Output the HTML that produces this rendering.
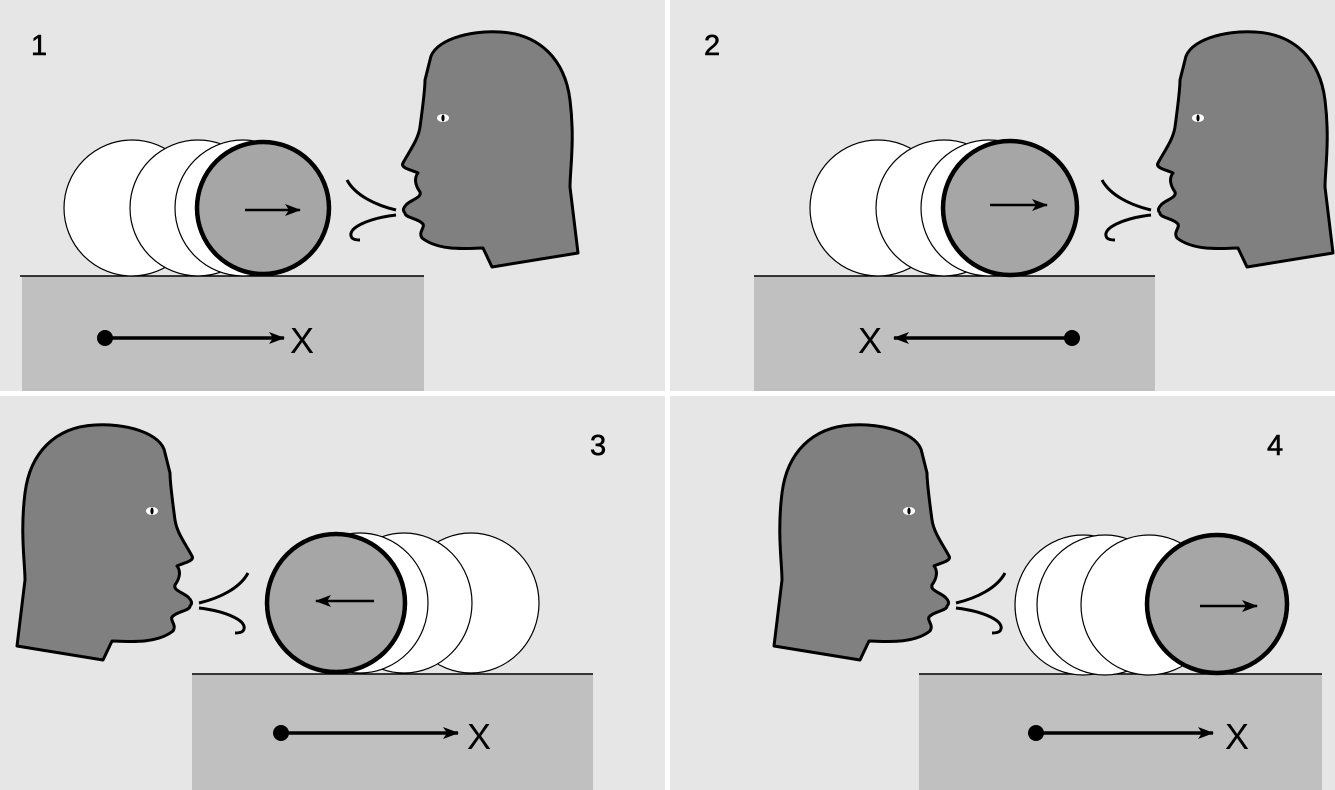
<!DOCTYPE html>
<html><head><meta charset="utf-8"><style>
html,body{margin:0;padding:0;background:#fff;}
svg{display:block;}
text{font-family:"Liberation Sans",sans-serif;}
</style></head><body>
<svg width="1335" height="790" viewBox="0 0 1335 790">
<defs>
<g id="head">
<path d="M430,60 C433,40 470,30 500,32 C540,34 565,60 570,100 C575,140 570,170 570,187 L578,253 L492,267 L483,248 C470,248 440,252 422,238 C418,232 425,228 423,224 C418,218 405,218 405,213 C402,210 404,207 406,205 C410,200 422,198 420,192 C415,185 414,178 418,173 C412,170 400,168 403,163 C410,150 418,140 420,127 C423,105 425,90 425,80 Z" fill="#808080" stroke="#000" stroke-width="3" stroke-linejoin="round"/>
<ellipse cx="443" cy="118" rx="6" ry="4" fill="#fff"/>
<ellipse cx="443" cy="118" rx="1.6" ry="3.5" fill="#000"/>
<path d="M347,180 C355,195 375,205 396,210" fill="none" stroke="#000" stroke-width="3"/>
<path d="M396,215 C370,218 345,228 352,238 C354,240 358,240 360,240" fill="none" stroke="#000" stroke-width="3"/>
</g>
<marker id="ah" markerWidth="16" markerHeight="12" refX="15" refY="6" orient="auto" markerUnits="userSpaceOnUse"><path d="M0,0 L16,6 L0,12 L4,6 Z" fill="#000"/></marker>
</defs>
<rect width="1335" height="790" fill="#fff"/>
<rect x="0" y="0" width="665" height="391" fill="#e6e6e6"/>
<rect x="670" y="0" width="665" height="391" fill="#e6e6e6"/>
<rect x="0" y="396" width="665" height="394" fill="#e6e6e6"/>
<rect x="670" y="396" width="665" height="394" fill="#e6e6e6"/>

<g>
<text x="31" y="55" font-size="29" stroke="#000" stroke-width="0.6">1</text>
<rect x="22" y="276" width="402" height="115" fill="#c0c0c0"/>
<line x1="20" y1="276" x2="424" y2="276" stroke="#000" stroke-width="1.5"/>
<circle cx="132" cy="208" r="68" fill="#fff" stroke="#000" stroke-width="1.2"/>
<circle cx="198" cy="208" r="68" fill="#fff" stroke="#000" stroke-width="1.2"/>
<circle cx="243" cy="208" r="68" fill="#fff" stroke="#000" stroke-width="1.2"/>
<circle cx="263" cy="208" r="66" fill="#a6a6a6" stroke="#000" stroke-width="4.5"/>
<line x1="245" y1="210" x2="300" y2="210" stroke="#000" stroke-width="2.5" marker-end="url(#ah)"/>
<use href="#head"/>
<circle cx="105" cy="338" r="8" fill="#000"/>
<line x1="105" y1="338" x2="284" y2="338" stroke="#000" stroke-width="3.5" marker-end="url(#ah)"/>
<text x="290" y="353" font-size="36">X</text>
</g>

<g>
<text x="704" y="55" font-size="29" stroke="#000" stroke-width="0.6">2</text>
<rect x="754" y="276" width="401" height="115" fill="#c0c0c0"/>
<line x1="754" y1="276" x2="1155" y2="276" stroke="#000" stroke-width="1.5"/>
<circle cx="878" cy="208" r="68" fill="#fff" stroke="#000" stroke-width="1.2"/>
<circle cx="944" cy="208" r="68" fill="#fff" stroke="#000" stroke-width="1.2"/>
<circle cx="989" cy="208" r="68" fill="#fff" stroke="#000" stroke-width="1.2"/>
<circle cx="1010" cy="208" r="67" fill="#a6a6a6" stroke="#000" stroke-width="4.5"/>
<line x1="990" y1="205" x2="1047" y2="205" stroke="#000" stroke-width="2.5" marker-end="url(#ah)"/>
<use href="#head" transform="translate(755,0)"/>
<circle cx="1072" cy="338" r="8" fill="#000"/>
<line x1="1072" y1="338" x2="894" y2="338" stroke="#000" stroke-width="3.5" marker-end="url(#ah)"/>
<text x="858" y="353" font-size="36">X</text>
</g>

<g>
<text x="590" y="455" font-size="29" stroke="#000" stroke-width="0.6">3</text>
<rect x="192" y="674" width="401" height="116" fill="#c0c0c0"/>
<line x1="192" y1="674" x2="593" y2="674" stroke="#000" stroke-width="1.5"/>
<ellipse cx="471" cy="603" rx="68" ry="70" fill="#fff" stroke="#000" stroke-width="1.2"/>
<ellipse cx="404" cy="603" rx="68" ry="70" fill="#fff" stroke="#000" stroke-width="1.2"/>
<ellipse cx="360" cy="603" rx="68" ry="70" fill="#fff" stroke="#000" stroke-width="1.2"/>
<ellipse cx="336" cy="603" rx="69" ry="69" fill="#a6a6a6" stroke="#000" stroke-width="4.5"/>
<line x1="374" y1="601" x2="316" y2="601" stroke="#000" stroke-width="2.5" marker-end="url(#ah)"/>
<use href="#head" transform="translate(595,393) scale(-1,1)"/>
<circle cx="281" cy="733" r="8" fill="#000"/>
<line x1="281" y1="733" x2="458" y2="733" stroke="#000" stroke-width="3.5" marker-end="url(#ah)"/>
<text x="467" y="749" font-size="36">X</text>
</g>

<g>
<text x="1267" y="455" font-size="29" stroke="#000" stroke-width="0.6">4</text>
<rect x="919" y="674" width="403" height="116" fill="#c0c0c0"/>
<line x1="919" y1="674" x2="1322" y2="674" stroke="#000" stroke-width="1.5"/>
<ellipse cx="1083" cy="605" rx="68" ry="70" fill="#fff" stroke="#000" stroke-width="1.2"/>
<ellipse cx="1105" cy="605" rx="68" ry="70" fill="#fff" stroke="#000" stroke-width="1.2"/>
<ellipse cx="1149" cy="605" rx="68" ry="70" fill="#fff" stroke="#000" stroke-width="1.2"/>
<ellipse cx="1217" cy="604" rx="70" ry="69" fill="#a6a6a6" stroke="#000" stroke-width="4.5"/>
<line x1="1200" y1="606" x2="1257" y2="606" stroke="#000" stroke-width="2.5" marker-end="url(#ah)"/>
<use href="#head" transform="translate(1352,393) scale(-1,1)"/>
<circle cx="1036" cy="733" r="8" fill="#000"/>
<line x1="1036" y1="733" x2="1213" y2="733" stroke="#000" stroke-width="3.5" marker-end="url(#ah)"/>
<text x="1225" y="749" font-size="36">X</text>
</g>
</svg>
</body></html>
